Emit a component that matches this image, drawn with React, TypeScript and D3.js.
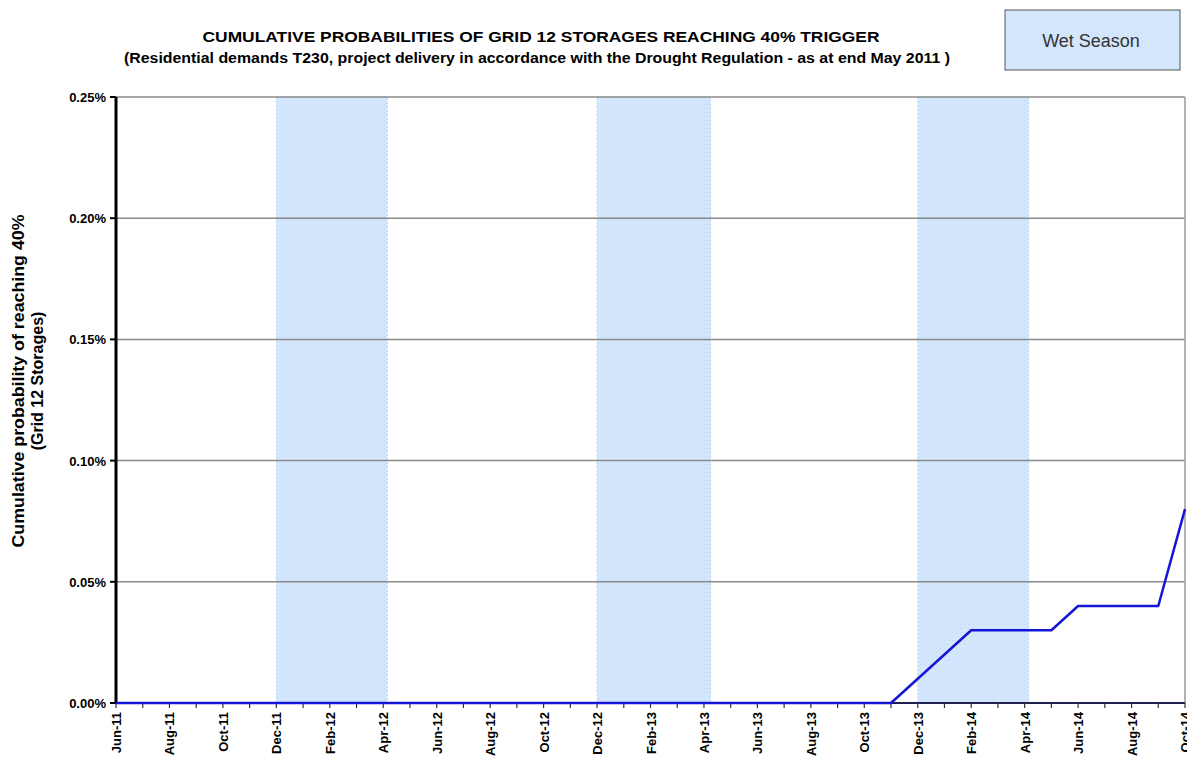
import * as d3 from 'd3';

// month labels, Jun-11 .. Oct-14
const months = [
  'Jun-11', 'Jul-11', 'Aug-11', 'Sep-11', 'Oct-11', 'Nov-11', 'Dec-11', 'Jan-12', 'Feb-12', 'Mar-12',
  'Apr-12', 'May-12', 'Jun-12', 'Jul-12', 'Aug-12', 'Sep-12', 'Oct-12', 'Nov-12', 'Dec-12', 'Jan-13',
  'Feb-13', 'Mar-13', 'Apr-13', 'May-13', 'Jun-13', 'Jul-13', 'Aug-13', 'Sep-13', 'Oct-13', 'Nov-13',
  'Dec-13', 'Jan-14', 'Feb-14', 'Mar-14', 'Apr-14', 'May-14', 'Jun-14', 'Jul-14', 'Aug-14', 'Sep-14',
  'Oct-14',
];

// cumulative probability (%)
const probability = [
  0, 0, 0, 0, 0, 0, 0, 0, 0, 0,
  0, 0, 0, 0, 0, 0, 0, 0, 0, 0,
  0, 0, 0, 0, 0, 0, 0, 0, 0, 0,
  0.01, 0.02, 0.03, 0.03, 0.03, 0.03, 0.04, 0.04, 0.04, 0.04,
  0.08,
];

// wet season bands (month index from Jun-11)
const wetStart = [6, 18, 30];
const wetEnd = [10.15, 22.25, 34.15];

const yTicks = [0, 0.05, 0.1, 0.15, 0.2, 0.25];

const W = 1187;
const H = 758;
const left = 116;
const right = 1185;
const top = 97;
const bottom = 703;

export default function App() {
  const x = d3.scaleLinear().domain([0, months.length - 1]).range([left, right]);
  const y = d3.scaleLinear().domain([0, 0.25]).range([bottom, top]);

  const line = d3.line<number>()
    .x((_, i) => x(i))
    .y(d => y(d));

  const font = '"Liberation Sans", Arial, sans-serif';

  return (
    <div style={{ position: 'absolute', left: 0, top: 0 }}>
      <svg width={W} height={H} style={{ display: 'block', background: '#fff' }} fontFamily={font}>
        <defs>
          <pattern id="dots" width="4" height="4" patternUnits="userSpaceOnUse">
            <rect width="4" height="4" fill="#d3e6fb" />
            <rect width="1" height="1" fill="#c2dbf5" />
          </pattern>
        </defs>

        {/* title */}
        <text x={541} y={42} textAnchor="middle" fontSize={15} fontWeight="bold" textLength={677} lengthAdjust="spacingAndGlyphs">
          CUMULATIVE PROBABILITIES OF  GRID 12 STORAGES REACHING 40% TRIGGER
        </text>
        <text x={537} y={63} textAnchor="middle" fontSize={14} fontWeight="bold" textLength={826} lengthAdjust="spacingAndGlyphs">
          (Residential demands T230,  project delivery in accordance with the Drought Regulation - as at end May 2011 )
        </text>

        {/* legend */}
        <rect x={1005} y={10} width={175} height={60} fill="#d3e6fb" stroke="#555" strokeWidth={1} />
        <text x={1091} y={47} textAnchor="middle" fontSize={18} fill="#333">Wet Season</text>

        {/* wet season bands */}
        {wetStart.map((s, i) => (
          <rect key={i} x={x(s)} y={top} width={x(wetEnd[i]) - x(s)} height={bottom - top}
            fill="url(#dots)" stroke="#b5d3f3" strokeWidth={1} strokeDasharray="2,2" />
        ))}

        {/* gridlines */}
        {yTicks.filter(t => t > 0).map(t => (
          <line key={t} x1={left} x2={right} y1={y(t)} y2={y(t)} stroke="#8a8a8a" strokeWidth={1.5} />
        ))}
        <line x1={right} x2={right} y1={top} y2={bottom} stroke="#9a9a9a" strokeWidth={1.5} />

        {/* y axis */}
        <line x1={left} x2={left} y1={top} y2={bottom + 1} stroke="#000" strokeWidth={3} />
        {yTicks.map(t => (
          <g key={t}>
            <line x1={left - 6} x2={left} y1={y(t)} y2={y(t)} stroke="#000" strokeWidth={2} />
            <text x={left - 10} y={y(t) + 5} textAnchor="end" fontSize={13} fontWeight="bold">
              {d3.format('.2f')(t)}%
            </text>
          </g>
        ))}

        {/* x axis */}
        <line x1={left} x2={right} y1={bottom} y2={bottom} stroke="#202050" strokeWidth={2} />
        {months.map((m, i) => (
          <g key={m}>
            <line x1={x(i)} x2={x(i)} y1={bottom} y2={bottom + 5} stroke="#333" strokeWidth={1.2} />
            {i % 2 === 0 && (
              <text transform={`translate(${x(i) + 5},${bottom + 9}) rotate(-90)`} textAnchor="end"
                fontSize={13} fontWeight="bold">
                {m}
              </text>
            )}
          </g>
        ))}

        {/* series */}
        <path d={line(probability) || ''} fill="none" stroke="#1515d8" strokeWidth={2.5} strokeLinejoin="round" />

        {/* y axis title */}
        <text transform="translate(24,381) rotate(-90)" textAnchor="middle" fontSize={16} fontWeight="bold" textLength={333} lengthAdjust="spacingAndGlyphs">
          Cumulative probability of reaching 40%
        </text>
        <text transform="translate(43,381) rotate(-90)" textAnchor="middle" fontSize={16} fontWeight="bold">
          (Grid 12 Storages)
        </text>
      </svg>
    </div>
  );
}
